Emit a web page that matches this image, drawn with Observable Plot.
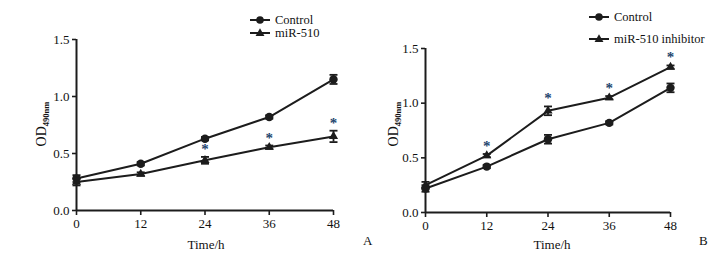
<!DOCTYPE html>
<html>
<head>
<meta charset="utf-8">
<script src="https://cdn.jsdelivr.net/npm/d3@7"></script>
<script src="https://cdn.jsdelivr.net/npm/@observablehq/plot@0.6"></script>
<style>
  html, body { margin: 0; padding: 0; background: #fff; }
  #wrap { position: relative; width: 724px; height: 255px; background: #fff; font-family: "Liberation Serif", "Times New Roman", serif; color: #111; overflow: hidden; }
  .panel { position: absolute; top: 0; }
  .legend { position: absolute; font-size: 12.5px; }
  .legend .row { display: flex; align-items: center; white-space: nowrap; line-height: 12px; }
  .legend svg { display: block; margin-right: 5px; }
  .tag { position: absolute; font-size: 13px; line-height: 13px; }
</style>
</head>
<body>
<div id="wrap">
  <div id="pa" class="panel" style="left:0px"></div>
  <div id="pb" class="panel" style="left:362px"></div>
</div>
<script>
// ---------- data ----------
const times = [0, 12, 24, 36, 48];
const yTicks = [0, 0.5, 1.0, 1.5];

const aControl    = [0.28, 0.41, 0.63, 0.82, 1.15];
const aControlErr = [0.03, 0.015, 0.015, 0.015, 0.04];
const aMiR        = [0.25, 0.32, 0.44, 0.555, 0.65];
const aMiRErr     = [0.03, 0.015, 0.03, 0.015, 0.05];
const aSig        = [false, false, true, true, true];

const bControl    = [0.22, 0.42, 0.67, 0.82, 1.14];
const bControlErr = [0.03, 0.015, 0.04, 0.015, 0.04];
const bInhib      = [0.25, 0.52, 0.93, 1.05, 1.33];
const bInhibErr   = [0.03, 0.015, 0.04, 0.015, 0.015];
const bSig        = [false, true, true, true, true];

const legendA = ["Control", "miR-510"];
const legendB = ["Control", "miR-510 inhibitor"];
const xLabel = "Time/h";
const yLabelMain = "OD";
const yLabelSub = "490nm";
const panelTags = ["A", "B"];

// ---------- helpers ----------
const INK = "#1c1c1c";
const STAR = "#23456e";
const FONT = "'Liberation Serif', 'Times New Roman', serif";
const capSymbol = {
  draw(ctx, size) {
    const w = Math.sqrt(size / Math.PI);
    ctx.moveTo(-w, 0);
    ctx.lineTo(w, 0);
  }
};

function rows(vals, errs, series, sig) {
  return times.map((t, i) => ({t, v: vals[i], e: errs[i], series, sig: sig ? sig[i] : false}));
}

function panel({ctrl, ctrlErr, trt, trtErr, sig, m}) {
  const dc = rows(ctrl, ctrlErr, "Control", null);
  const dt = rows(trt, trtErr, "Treated", sig);
  const all = dc.concat(dt);
  const lo = d => d.v - d.e, hi = d => d.v + d.e;
  return Plot.plot({
    width: 362, height: 255,
    marginLeft: m.left, marginRight: m.right, marginTop: m.top, marginBottom: m.bottom,
    style: {fontFamily: FONT, fontSize: "13px", color: "#111", background: "transparent", overflow: "visible"},
    x: {domain: [0, 48], label: null},
    y: {domain: [0, 1.5], label: null},
    marks: [
      Plot.axisX({ticks: times, tickSize: 5, tickPadding: 3, label: null, stroke: INK, strokeWidth: 1.6, fontSize: 13}),
      Plot.axisY({ticks: yTicks, tickFormat: d3.format(".1f"), tickSize: 4, tickPadding: 3, label: null, stroke: INK, strokeWidth: 1.6, fontSize: 13}),
      Plot.ruleX([0], {y1: 0, y2: 1.5, stroke: INK, strokeWidth: 2}),
      Plot.ruleY([0], {x1: 0, x2: 48, stroke: INK, strokeWidth: 2}),
      Plot.line(dc, {x: "t", y: "v", stroke: INK, strokeWidth: 2}),
      Plot.line(dt, {x: "t", y: "v", stroke: INK, strokeWidth: 2}),
      Plot.ruleX(all, {x: "t", y1: lo, y2: hi, stroke: INK, strokeWidth: 1.8}),
      Plot.dot(all, {x: "t", y: lo, symbol: capSymbol, r: 4, stroke: INK, fill: "none", strokeWidth: 1.8}),
      Plot.dot(all, {x: "t", y: hi, symbol: capSymbol, r: 4, stroke: INK, fill: "none", strokeWidth: 1.8}),
      Plot.dot(dc, {x: "t", y: "v", symbol: "circle", r: 4.2, fill: INK, stroke: "none"}),
      Plot.dot(dt, {x: "t", y: "v", symbol: "triangle", r: 3.4, fill: INK, stroke: "none"}),
      Plot.text(dt.filter(d => d.sig), {x: "t", y: hi, text: () => "*", dy: -3, lineAnchor: "bottom", fill: STAR, fontSize: 15, fontWeight: "bold"})
    ]
  });
}

function addAxisLabels(plot, xy) {
  const svg = d3.select(plot);
  svg.append("text")
    .attr("x", xy.xlx).attr("y", xy.xly)
    .attr("text-anchor", "middle")
    .attr("font-size", 13)
    .attr("fill", "#111")
    .text(xLabel);
  const t = svg.append("text")
    .attr("transform", `translate(${xy.ylx},${xy.yly}) rotate(-90)`)
    .attr("text-anchor", "middle")
    .attr("font-size", 14)
    .attr("fill", "#111");
  t.append("tspan").text(yLabelMain);
  t.append("tspan").attr("font-size", 8.5).attr("dy", 3).attr("font-weight", "bold").text(yLabelSub);
}

function addLegend(container, labels, left, top, gap) {
  const box = document.createElement("div");
  box.className = "legend";
  box.style.left = left + "px";
  box.style.top = top + "px";
  labels.forEach((lab, i) => {
    const row = document.createElement("div");
    row.className = "row";
    row.style.height = "12px";
    if (i > 0) row.style.marginTop = gap + "px";
    const marker = i === 0
      ? `<circle cx="10" cy="6" r="3.8" fill="${INK}"/>`
      : `<path d="${d3.symbol(d3.symbolTriangle, Math.PI * 3.3 * 3.3)()}" transform="translate(10,6.5)" fill="${INK}"/>`;
    row.innerHTML = `<svg width="20" height="12"><line x1="0" y1="6" x2="20" y2="6" stroke="${INK}" stroke-width="2"/>${marker}</svg><span>${lab}</span>`;
    box.appendChild(row);
  });
  container.appendChild(box);
}

const mA = {left: 76, right: 29, top: 39, bottom: 45};
const mB = {left: 63, right: 54, top: 48, bottom: 43};

const pa = panel({ctrl: aControl, ctrlErr: aControlErr, trt: aMiR, trtErr: aMiRErr, sig: aSig, m: mA});
const pb = panel({ctrl: bControl, ctrlErr: bControlErr, trt: bInhib, trtErr: bInhibErr, sig: bSig, m: mB});
addAxisLabels(pa, {xlx: 206, xly: 249, ylx: 46, yly: 124});
addAxisLabels(pb, {xlx: 190, xly: 249, ylx: 36, yly: 124});
document.getElementById("pa").appendChild(pa);
document.getElementById("pb").appendChild(pb);

const wrap = document.getElementById("wrap");
addLegend(wrap, legendA, 250, 14, 1);
addLegend(wrap, legendB, 589, 11, 10);

panelTags.forEach((tag, i) => {
  const d = document.createElement("div");
  d.className = "tag";
  d.textContent = tag;
  d.style.left = (i === 0 ? 363 : 699) + "px";
  d.style.top = "234px";
  wrap.appendChild(d);
});
</script>
</body>
</html>
